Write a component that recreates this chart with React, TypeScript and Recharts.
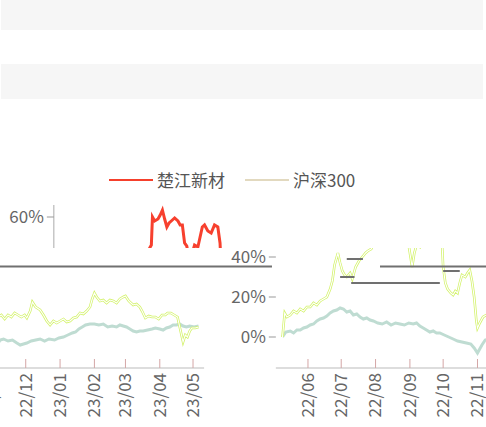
import { LineChart, Line, XAxis, YAxis, ReferenceLine } from "recharts";

// month ticks, as day index counted from 2022-05-09
const monthTicks = [23, 53, 84, 115, 145, 176, 206, 237, 268, 296, 327, 357];
const monthLabels = ["22/06", "22/07", "22/08", "22/09", "22/10", "22/11", "22/12", "23/01", "23/02", "23/03", "23/04", "23/05"];
const pctTicks = [0, 20, 40, 60];

// 楚江新材 cumulative return (%)
const cjDays = [0, 2, 4, 7, 10, 13, 16, 19, 22, 25, 28, 31, 34, 37, 40, 43, 45, 47, 50, 52, 54, 56, 58, 61, 63, 66, 69, 72, 75, 77, 80, 82, 83, 85, 88, 90, 92, 94, 96, 98, 100, 103, 106, 108, 110, 112, 114, 117, 119, 121, 124, 126, 128, 130, 133, 136, 139, 142, 144, 145, 147, 149, 152, 154, 156, 158, 160, 162, 165, 167, 169, 171, 173, 175, 176, 178, 181, 184, 187, 190, 193, 196, 199, 202, 205, 207, 210, 212, 215, 219, 222, 225, 228, 231, 234, 237, 240, 243, 246, 249, 252, 255, 258, 261, 264, 266, 268, 270, 273, 276, 279, 282, 285, 288, 291, 294, 296, 299, 301, 303, 306, 309, 311, 314, 317, 320, 323, 326, 329, 332, 334, 337, 340, 343, 345, 348, 350, 352, 354, 356, 359, 362];
const cjPct = [0, 12, 10, 11, 13, 12, 14, 13, 15, 15, 17, 16, 18, 19, 20, 24, 28, 36, 42, 37, 33, 31, 30, 32, 29, 35, 38, 40, 42, 43, 44, 46, 60, 58, 59, 61, 63.5, 59, 55, 57, 58, 59.5, 58, 56, 56, 47, 45.5, 35, 42, 46, 45, 50, 55, 56, 53, 52, 56, 55, 47, 35, 27, 24, 22, 21, 23, 22, 27, 31, 30, 32, 33.5, 28, 20, 8, 4.5, 7, 10, 11, 9, 11, 10, 12, 11, 10, 11, 9.5, 13, 17.5, 15, 13.5, 11, 8, 6, 8, 7, 8, 9, 7.5, 8, 9.5, 10, 12, 11.5, 13, 15, 19, 22, 20, 18, 18.5, 17, 18.5, 18, 17, 19, 20, 20.5, 18, 17, 16, 16.5, 15, 13, 9.5, 10.5, 10, 10, 9, 11, 11, 12, 12, 11, 10, 5, -2.5, 1, 0, 3, 4.5, 4.5, 5];

// 沪深300 cumulative return (%)
const hsDays = [0, 3, 7, 10, 13, 16, 19, 22, 25, 28, 31, 34, 37, 40, 43, 46, 49, 52, 55, 58, 61, 64, 67, 70, 73, 76, 79, 82, 86, 90, 94, 98, 102, 106, 110, 114, 118, 121, 124, 127, 130, 133, 136, 139, 142, 146, 150, 154, 158, 162, 166, 170, 173, 176, 178, 180, 183, 186, 190, 194, 198, 201, 204, 207, 211, 215, 219, 223, 227, 232, 236, 240, 244, 248, 251, 254, 257, 260, 264, 268, 272, 276, 280, 284, 288, 291, 294, 297, 300, 303, 306, 309, 312, 316, 320, 323, 327, 330, 333, 336, 339, 342, 345, 348, 351, 354, 358, 362];
const hsPct = [0, 2.5, 3, 2, 3.5, 3.5, 4.5, 5, 6, 6.5, 8, 9, 9.5, 10.5, 12, 13, 13.5, 14.5, 14, 12.5, 13, 11, 11.5, 10, 9, 9.5, 8.5, 8, 7, 6.5, 7.5, 6, 7, 6.5, 6, 7, 6.5, 7, 5.5, 4.5, 3.5, 2.5, 3, 2, 2, 1, 0, -1, -2, -2.5, -3, -3.5, -5.5, -8, -6, -4, -1.5, -1, -2, -1.5, -3, -4, -3.5, -3, -2, -1.5, -1, -2, -1, -1.5, -0.5, 0, 1, 2, 2.5, 4, 5, 6, 6.5, 6.5, 6, 6.5, 5, 5.5, 5, 6, 5.5, 5, 4, 3, 2.5, 3, 3, 3.5, 4, 4.5, 4, 3.5, 4.5, 5, 6, 6, 6.5, 5.5, 5, 5.5, 5, 5.5];

// stray dark rule segments seen in the picture: [fromDay, toDay, pct]
const ruleSegs = [
  [-52, -9.5, 35.25],
  [88, 404, 35.25],
  [58, 72.6, 39],
  [52, 65, 30],
  [62, 142, 27],
  [145, 160, 33],
];

const cjData = cjDays.map((d, i) => ({ day: d, v: cjPct[i] }));
const hsData = hsDays.map((d, i) => ({ day: d, v: hsPct[i] }));

const FONT = "'Noto Sans CJK SC', 'Noto Sans', sans-serif";

const MonthTick = (props: any) => {
  const { x, y, payload } = props;
  const label = monthLabels[monthTicks.indexOf(payload.value)];
  const ty = y + 5;
  return (
    <g>
      <line x1={x} y1={y - 9} x2={x} y2={y} stroke="#d4a6a6" />
      <text
        x={x}
        y={ty}
        transform={`rotate(-90 ${x} ${ty})`}
        textAnchor="end"
        dy="0.35em"
        fill="#666"
        fontSize={17}
        fontFamily={FONT}
      >
        {label}
      </text>
    </g>
  );
};

type ChartProps = { cjColor: string; hsColor: string; glitch: boolean; axisLine: boolean };

const TrendChart = ({ cjColor, hsColor, glitch, axisLine }: ChartProps) => (
  <LineChart width={740} height={427} margin={{ top: 205, right: 50.9, bottom: 9, left: 215.85 }}>
    <XAxis
      type="number"
      dataKey="day"
      domain={[-6, 367]}
      ticks={monthTicks}
      interval={0}
      allowDataOverflow
      height={50}
      tickSize={0}
      tickMargin={0}
      tickLine={false}
      axisLine={{ stroke: "#bbb" }}
      tick={<MonthTick />}
    />
    <YAxis
      type="number"
      domain={[-15.5, 66]}
      ticks={pctTicks}
      allowDataOverflow
      width={60}
      axisLine={axisLine ? { stroke: "#aaa" } : false}
      tickLine={{ stroke: "#999" }}
      tickSize={7}
      tickMargin={3}
      tickFormatter={(v) => `${v}%`}
      tick={{ fill: "#666", fontSize: 17, fontFamily: FONT }}
    />
    <Line data={hsData} dataKey="v" stroke={hsColor} strokeWidth={3} dot={false} isAnimationActive={false} />
    <Line data={cjData} dataKey="v" stroke={cjColor} strokeWidth={glitch ? 2.6 : 3} dot={false} isAnimationActive={false} />
    {glitch && (
      <Line data={cjData} dataKey="v" stroke="#ffffff" strokeWidth={1.1} dot={false} isAnimationActive={false} />
    )}
    {glitch &&
      ruleSegs.map((s, i) => (
        <ReferenceLine
          key={i}
          segment={[
            { x: s[0], y: s[2] },
            { x: s[1], y: s[2] },
          ]}
          stroke="#707070"
          strokeWidth={2}
          ifOverflow="visible"
        />
      ))}
  </LineChart>
);

// a window onto the chart: screen x = chart x - shift
const Slice = ({ left, top, width, height, shift, children }: any) => (
  <div style={{ position: "absolute", left, top, width, height, overflow: "hidden" }}>
    <div style={{ position: "absolute", left: -left - shift, top: -top }}>{children}</div>
  </div>
);

export default function App() {
  return (
    <div
      style={{
        position: "fixed",
        left: 0,
        top: 0,
        width: 486,
        height: 427,
        overflow: "hidden",
        background: "#fff",
        fontFamily: FONT,
      }}
    >
      <div style={{ position: "absolute", left: 1, top: 0, width: 482, height: 30, background: "#f6f6f6" }} />
      <div style={{ position: "absolute", left: 1, top: 64, width: 482, height: 35, background: "#f6f6f6" }} />

      <div style={{ position: "absolute", left: 109, top: 179, width: 44, height: 2, background: "#f5402c" }} />
      <div style={{ position: "absolute", left: 157, top: 168, fontSize: 17, lineHeight: "24px", color: "#555", whiteSpace: "nowrap" }}>
        楚江新材
      </div>
      <div style={{ position: "absolute", left: 245, top: 179, width: 44, height: 2, background: "#e2d9bf" }} />
      <div style={{ position: "absolute", left: 293, top: 168, fontSize: 17, lineHeight: "24px", color: "#555", whiteSpace: "nowrap" }}>
        沪深300
      </div>

      <Slice left={0} top={198} width={486} height={50} shift={222}>
        <TrendChart cjColor="#f7402e" hsColor="#e2d9bf" glitch={false} axisLine />
      </Slice>
      <Slice left={225} top={248} width={261} height={179} shift={0}>
        <TrendChart cjColor="#d3f26a" hsColor="#bfdcd2" glitch axisLine={false} />
      </Slice>
      <Slice left={0} top={248} width={225} height={179} shift={485}>
        <TrendChart cjColor="#d3f26a" hsColor="#bfdcd2" glitch axisLine={false} />
      </Slice>
    </div>
  );
}
